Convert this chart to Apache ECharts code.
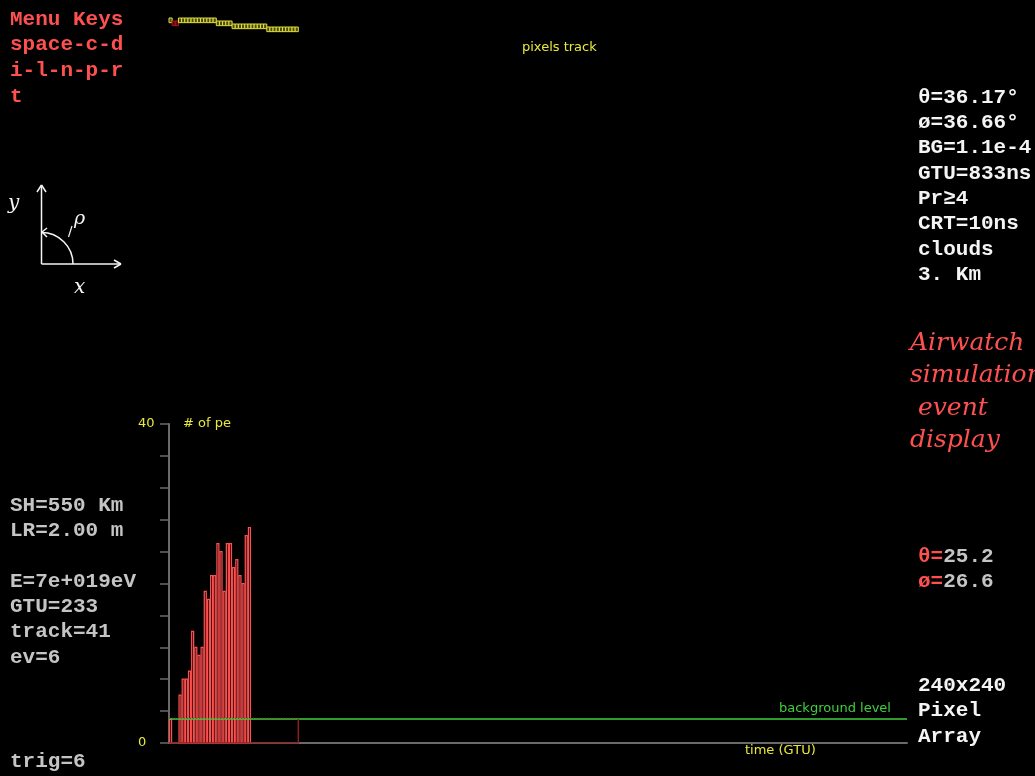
<!DOCTYPE html>
<html>
<head>
<meta charset="utf-8">
<title>Airwatch simulation event display</title>
<script src="https://cdn.jsdelivr.net/npm/echarts@6/dist/echarts.min.js"></script>
<style>
  html, body { margin: 0; padding: 0; background: #000; }
  #chart { width: 1035px; height: 776px; }
</style>
</head>
<body>
<div id="chart"></div>
<script>
// Photo-electrons per GTU along the 41-GTU track
const peCounts = [3, 0, 0, 6, 8, 8, 9, 14, 12, 11, 12, 19, 18, 21, 21, 25, 24, 19, 25, 25,
                  22, 23, 21, 20, 26, 27, 0, 0, 0, 0, 0, 0, 0, 0, 0, 0, 0, 0, 0, 0, 0];
// Pixel row crossed in each GTU (top strip)
const trackRows = [0, 1, 1, 0, 0, 0, 0, 0, 0, 0, 0, 0, 0, 0, 0, 1, 1, 1, 1, 1,
                   2, 2, 2, 2, 2, 2, 2, 2, 2, 2, 2, 3, 3, 3, 3, 3, 3, 3, 3, 3, 3];
// GTUs in which the track pixel did not fire
const trackMissed = [1, 2];
const backgroundLevel = 3;
const totalGTU = 234;
const peMax = 40;
const peTickStep = 4;

// Text panels
const menuLines = ['Menu Keys', 'space-c-d', 'i-l-n-p-r', 't'];
const paramLines = ['θ=36.17°', 'ø=36.66°', 'BG=1.1e-4', 'GTU=833ns', 'Pr≥4', 'CRT=10ns', 'clouds', '3. Km'];
const eventLines = ['SH=550 Km', 'LR=2.00 m', '', 'E=7e+019eV', 'GTU=233', 'track=41', 'ev=6'];
const titleLines = ['Airwatch', 'simulation', ' event', 'display'];
const recoAngles = [['θ=', '25.2'], ['ø=', '26.6']];
const arrayLines = ['240x240', 'Pixel', 'Array'];

const MONO = 'bold 21px "Liberation Mono", "DejaVu Sans Mono", monospace';
const SMALL = '13px "DejaVu Sans", sans-serif';
const SCRIPT = 'italic 25px "DejaVu Serif", serif';
const RED = '#ff5050';
const GREY = '#c4c4c4';
const WHITE = '#f4f4f4';
const YELLOW = '#e8e83c';
const GREEN = '#3ed03e';

function txt(text, x, y, fill, font, align) {
  return {
    type: 'text', silent: true,
    style: { text, x, y, fill, font, textAlign: align || 'left', textVerticalAlign: 'middle', verticalAlign: 'middle' }
  };
}
function seg(x1, y1, x2, y2, w) {
  return { type: 'line', silent: true, shape: { x1, y1, x2, y2 }, style: { stroke: WHITE, lineWidth: w || 1.5 } };
}

const graphics = [];
menuLines.forEach((t, i) => graphics.push(txt(t, 10, 19.5 + i * 25.6, RED, MONO)));
paramLines.forEach((t, i) => graphics.push(txt(t, 918, 97.5 + i * 25.3, WHITE, MONO)));
eventLines.forEach((t, i) => { if (t) graphics.push(txt(t, 10, 505.5 + i * 25.3, GREY, MONO)); });
graphics.push(txt('trig=6', 10, 762, GREY, MONO));
titleLines.forEach((t, i) => graphics.push(txt(t, 910, 343 + i * 32.5, RED, SCRIPT)));
recoAngles.forEach((p, i) => {
  graphics.push(txt(p[0], 918, 556.5 + i * 25.3, RED, MONO));
  graphics.push(txt(p[1], 918 + 2 * 12.6, 556.5 + i * 25.3, GREY, MONO));
});
arrayLines.forEach((t, i) => graphics.push(txt(t, 918, 685.5 + i * 25.6, WHITE, MONO)));

// Axis labels of the plots
graphics.push(txt('pixels track', 522, 48, YELLOW, SMALL));
graphics.push(txt('# of pe', 183, 424, YELLOW, SMALL));
graphics.push(txt('background level', 779, 709, GREEN, SMALL));
graphics.push(txt('time (GTU)', 745, 751, YELLOW, SMALL));

// Angle convention sketch
graphics.push(seg(41.5, 185, 41.5, 264));
graphics.push(seg(41.5, 264, 121, 264));
graphics.push(seg(37, 192, 41.5, 185));
graphics.push(seg(46, 192, 41.5, 185));
graphics.push(seg(114, 260, 121, 264));
graphics.push(seg(114, 268, 121, 264));
graphics.push({
  type: 'arc', silent: true,
  shape: { cx: 41.5, cy: 264, r: 31.5, startAngle: -Math.PI / 2, endAngle: 0, clockwise: true },
  style: { stroke: WHITE, lineWidth: 1.5, fill: null }
});
graphics.push(seg(42, 232, 47, 228));
graphics.push(seg(42, 232, 47, 237));
graphics.push(seg(68.5, 237, 72, 226, 1.2));
graphics.push(txt('ρ', 74, 219, WHITE, 'italic 19px "DejaVu Serif", serif'));
graphics.push(txt('y', 8, 204, WHITE, 'italic 20px "DejaVu Serif", serif'));
graphics.push(txt('x', 74, 288, WHITE, 'italic 20px "DejaVu Serif", serif'));

const histData = peCounts.map((v, i) => [i, v]);
const trackData = trackRows.map((r, i) => [i, r, trackMissed.indexOf(i) >= 0 ? 1 : 0]);
const trackEnd = peCounts.length;

const option = {
  backgroundColor: '#000',
  animation: false,
  graphic: graphics,
  grid: [
    { left: 169, top: 424, width: 738, height: 319 },
    { left: 169, top: 18, width: 738, height: 12 }
  ],
  xAxis: [
    {
      gridIndex: 0, type: 'value', min: 0, max: totalGTU,
      axisLine: { show: true, lineStyle: { color: '#6a6a6a', width: 2 } },
      axisTick: { show: false }, axisLabel: { show: false }, splitLine: { show: false }
    },
    { gridIndex: 1, type: 'value', min: 0, max: totalGTU, show: false }
  ],
  yAxis: [
    {
      gridIndex: 0, type: 'value', min: 0, max: peMax, interval: peTickStep, offset: 2,
      axisLine: { show: true, lineStyle: { color: '#6a6a6a', width: 2 } },
      axisTick: { show: true, length: 9, lineStyle: { color: '#6a6a6a', width: 1.5 } },
      axisLabel: {
        formatter: v => (v === 0 || v === peMax) ? String(v) : '',
        color: YELLOW, fontSize: 13, fontFamily: 'DejaVu Sans', align: 'left', margin: 29
      },
      splitLine: { show: false }
    },
    { gridIndex: 1, type: 'value', min: 0, max: 4, inverse: true, show: false }
  ],
  series: [
    {
      type: 'custom', xAxisIndex: 0, yAxisIndex: 0, z: 3,
      data: histData,
      renderItem: (params, api) => {
        const x = api.value(0), v = api.value(1);
        if (!v) return null;
        const base = api.coord([x, 0]);
        const top = api.coord([x + 1, v]);
        return {
          type: 'rect',
          shape: { x: base[0] + 0.6, y: top[1], width: top[0] - base[0] - 1.2, height: base[1] - top[1] },
          style: { fill: '#000', stroke: '#ff4e4e', lineWidth: 1.25 }
        };
      }
    },
    {
      type: 'line', xAxisIndex: 0, yAxisIndex: 0, z: 4, symbol: 'none', silent: true,
      data: [[0, backgroundLevel], [totalGTU, backgroundLevel]],
      lineStyle: { color: GREEN, width: 1.5 }
    },
    {
      type: 'line', xAxisIndex: 0, yAxisIndex: 0, z: 5, symbol: 'none', silent: true,
      data: [[0, backgroundLevel + 0.1], [trackEnd, backgroundLevel + 0.1]],
      lineStyle: { color: '#a83030', width: 1, type: [1, 2] }
    },
    {
      type: 'line', xAxisIndex: 0, yAxisIndex: 0, z: 5, symbol: 'none', silent: true,
      data: [[trackEnd, backgroundLevel], [trackEnd, 0], [0, 0]],
      lineStyle: { color: '#8c1e1e', width: 1.5 }
    },
    {
      type: 'custom', xAxisIndex: 1, yAxisIndex: 1, z: 3,
      data: trackData,
      renderItem: (params, api) => {
        const x = api.value(0), row = api.value(1), missed = api.value(2);
        const a = api.coord([x, row]);
        const b = api.coord([x + 1, row + 1]);
        return {
          type: 'rect',
          shape: { x: a[0], y: a[1], width: b[0] - a[0], height: (b[1] - a[1]) * 1.55 },
          style: missed
            ? { fill: '#5a0808', stroke: '#a81818', lineWidth: 1 }
            : { fill: '#4a4a08', stroke: '#e0e040', lineWidth: 1 }
        };
      }
    }
  ]
};

const chart = echarts.init(document.getElementById('chart'), null, { renderer: 'canvas' });
chart.setOption(option);
</script>
</body>
</html>
